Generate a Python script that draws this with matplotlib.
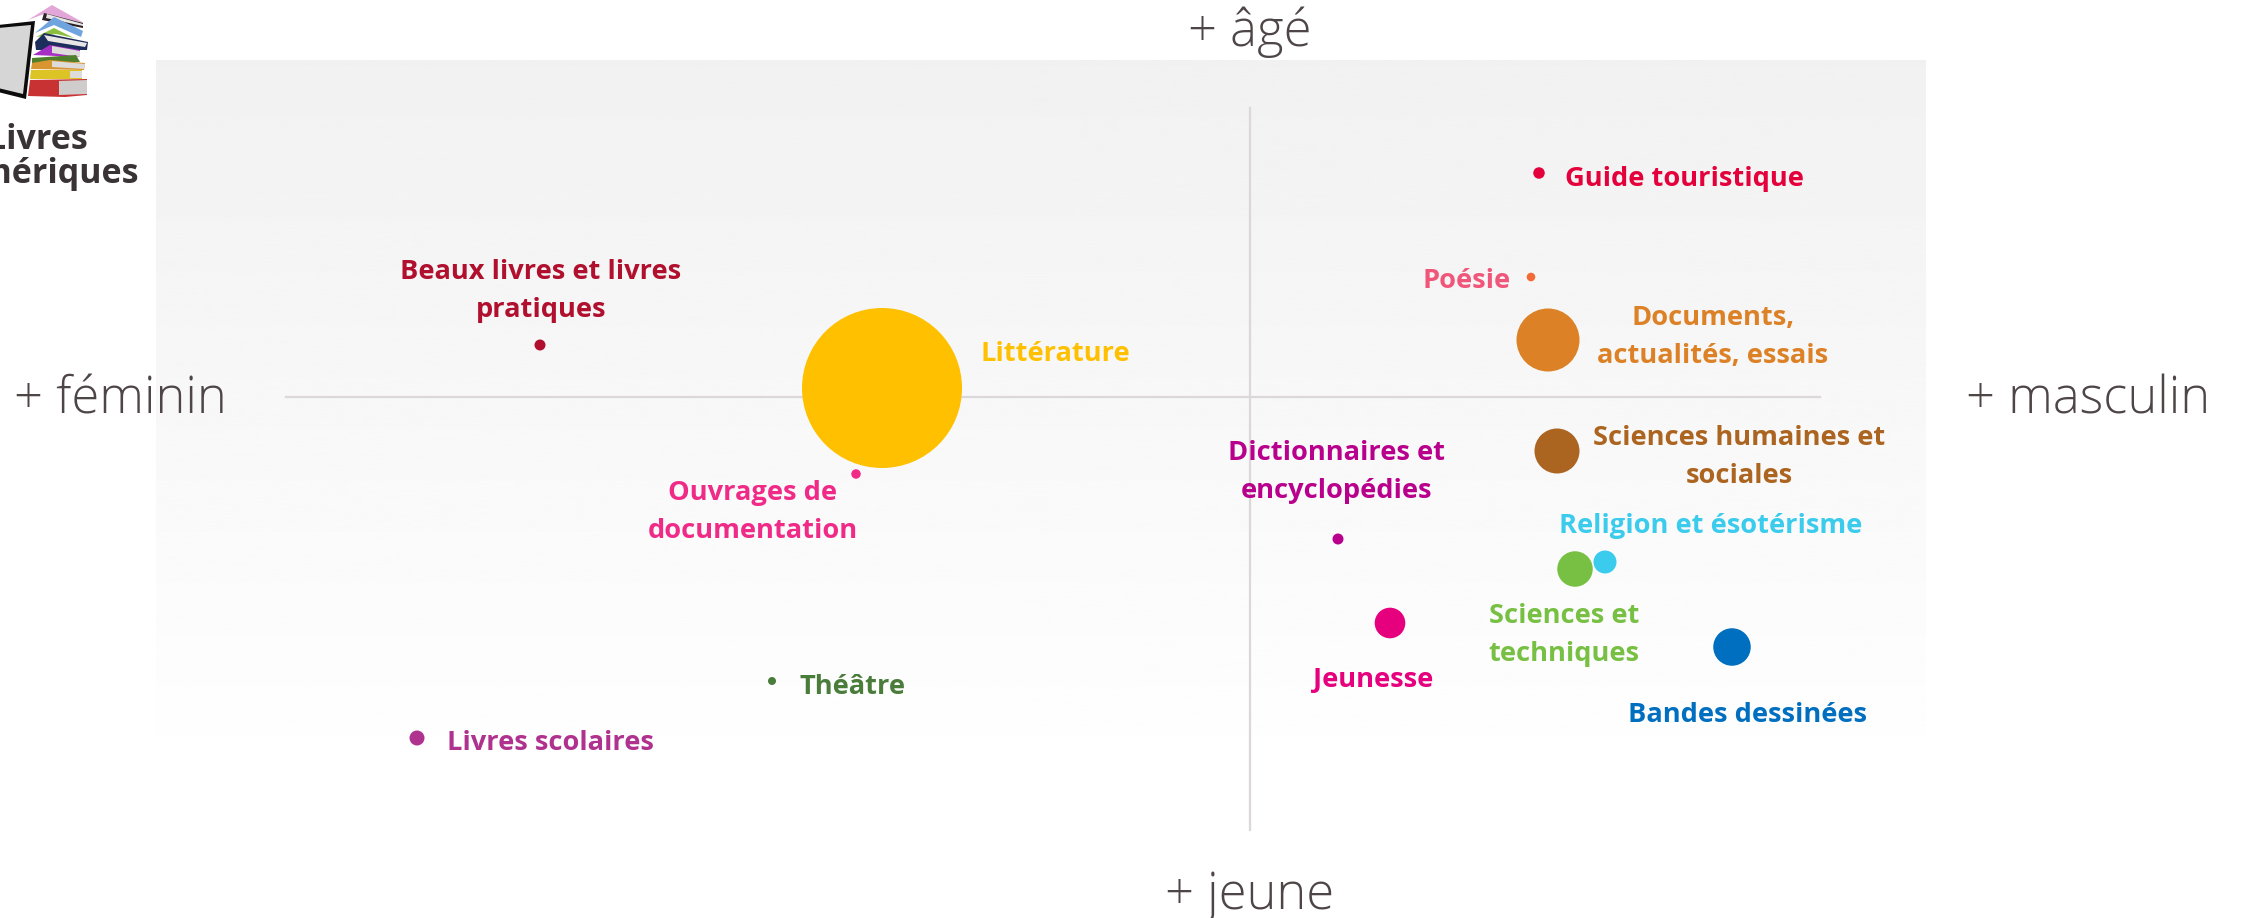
import numpy as np
import matplotlib
matplotlib.use('Agg')
import matplotlib.pyplot as plt
from matplotlib.patches import Polygon

plt.rcParams['font.family'] = ['Open Sans', 'DejaVu Sans']

# position of each genre relative to the crossing of the axes
genres = ['Guide touristique', 'Poésie', 'Documents, actualités, essais',
          'Sciences humaines et sociales', 'Dictionnaires et encyclopédies',
          'Religion et ésotérisme', 'Sciences et techniques', 'Jeunesse',
          'Bandes dessinées', 'Beaux livres et livres pratiques', 'Littérature',
          'Ouvrages de documentation', 'Théâtre', 'Livres scolaires']
masculin = [289, 281, 298, 307, 88, 355, 325, 140, 482, -710, -368, -394, -478, -833]
age = [224, 120, 57, -54, -142, -165, -172, -226, -250, 52, 9, -77, -284, -341]
diameter = [11.5, 8.6, 63, 45, 11, 23, 35.5, 30.6, 37.5, 11, 160, 9.5, 8, 15]
dot_colors = ['#e4003a', '#f26a35', '#dc8126', '#ab6520', '#b8008c', '#3bcbed', '#78c043',
              '#e6007e', '#006fc0', '#b10f2e', '#ffc000', '#f02a87', '#4a7c3a', '#b0328f']
label_colors = ['#e4003a', '#f0567a', '#dc8126', '#ab6520', '#b8008c', '#3bcbed', '#78c043',
                '#e6007e', '#006fc0', '#b10f2e', '#ffc000', '#f02a87', '#4a7c3a', '#b0328f']
label_text = ['Guide touristique', 'Poésie', 'Documents,\nactualités, essais',
              'Sciences humaines et\nsociales', 'Dictionnaires et\nencyclopédies',
              'Religion et ésotérisme', 'Sciences et\ntechniques', 'Jeunesse',
              'Bandes dessinées', 'Beaux livres et livres\npratiques', 'Littérature',
              'Ouvrages de\ndocumentation', 'Théâtre', 'Livres scolaires']
# label centres
label_x = [434, 217, 463, 489, 87, 461, 314, 123, 497, -709, -195, -497, -398, -700]
label_y = [218, 116, 60, -60, -75, -129, -238, -283, -318, 106, 43, -115, -290, -346]

axis_labels = ['+ âgé', '+ jeune', '+ féminin', '+ masculin']
axis_x = [0, 0, -1130, 838]
axis_y = [365, -498, -3, -3]

W, H = 2244, 918
X0, Y0 = 1250, 397
fig = plt.figure(figsize=(W/100, H/100), dpi=100)
ax = fig.add_axes([0, 0, 1, 1])
ax.axis('off')

# background panel fading to white
grad = np.linspace(0.945, 1.0, 256).reshape(-1, 1)
ax.imshow(grad, cmap='gray', vmin=0, vmax=1, aspect='auto', zorder=0,
          extent=[156-X0, 1926-X0, Y0-790, Y0-60])

ax.plot([286-X0, 1820-X0], [0, 0], color='#dcd8d9', lw=1.6, zorder=1)
ax.plot([0, 0], [Y0-108, Y0-830], color='#dcd8d9', lw=1.6, zorder=1)

sizes = [(d*72/fig.dpi)**2 for d in diameter]
ax.scatter(masculin, age, s=sizes, c=dot_colors, linewidths=0, zorder=2)

for i in range(len(genres)):
    ax.text(label_x[i], label_y[i], label_text[i], color=label_colors[i],
            fontsize=19.6, fontweight='bold', ha='center', va='center',
            linespacing=1.6, zorder=3)

for i in range(len(axis_labels)):
    ax.text(axis_x[i], axis_y[i], axis_labels[i], color='#4e4547', fontsize=36.5,
            fontweight='light', ha='center', va='center', zorder=3)

ax.set_xlim(-X0, W-X0)
ax.set_ylim(Y0-H, Y0)

# book stack icon, pixel coordinates
icon = fig.add_axes([0, 0, 1, 1])
icon.axis('off')
icon.patch.set_alpha(0)
icon.set_xlim(0, W)
icon.set_ylim(H, 0)
icon_shapes = [
    ([(28, 20), (52, 5), (84, 23), (44, 14)], '#e3a6d8'),
    ([(44, 13), (83, 23), (83, 28), (42, 20)], '#2a2228'),
    ([(47, 14), (83, 24), (83, 26), (46, 18)], '#e8e6e4'),
    ([(35, 33), (54, 17), (83, 31), (81, 37), (54, 25)], '#6fa4de'),
    ([(36, 37), (54, 28), (74, 38), (56, 34)], '#8cbf3f'),
    ([(35, 42), (44, 33), (88, 42), (87, 50), (36, 50)], '#1d2d5c'),
    ([(44, 35), (87, 43), (85, 47), (48, 41)], '#e8e6e4'),
    ([(33, 55), (50, 45), (80, 50), (80, 57)], '#a62fc4'),
    ([(52, 46), (80, 51), (80, 57), (52, 53)], '#dedcda'),
    ([(32, 58), (76, 55), (80, 62), (32, 63)], '#4f7f2a'),
    ([(32, 63), (50, 60), (85, 63), (84, 70), (31, 69)], '#d9952f'),
    ([(52, 61), (85, 64), (84, 69), (52, 67)], '#dedcda'),
    ([(31, 70), (82, 70), (82, 79), (30, 79)], '#dcc427'),
    ([(70, 71), (82, 71), (82, 78), (70, 78)], '#dedcda'),
    ([(30, 80), (87, 79), (87, 95), (65, 97), (28, 96)], '#c83232'),
    ([(59, 81), (87, 80), (87, 94), (59, 95)], '#cfcdcb'),
    ([(-2, 25), (35, 21), (26, 99), (-2, 92)], '#0c0c0c'),
    ([(-2, 28), (31, 25), (23, 94), (-2, 88)], '#d6d6d6'),
]
for pts, col in icon_shapes:
    icon.add_patch(Polygon(pts, color=col, lw=0))
icon.text(37, 157, 'Livres\nnumériques', color='#3a3335', fontsize=24.5, fontweight='bold',
          ha='center', va='center', linespacing=0.99)

fig.savefig('out.png', dpi=100)
